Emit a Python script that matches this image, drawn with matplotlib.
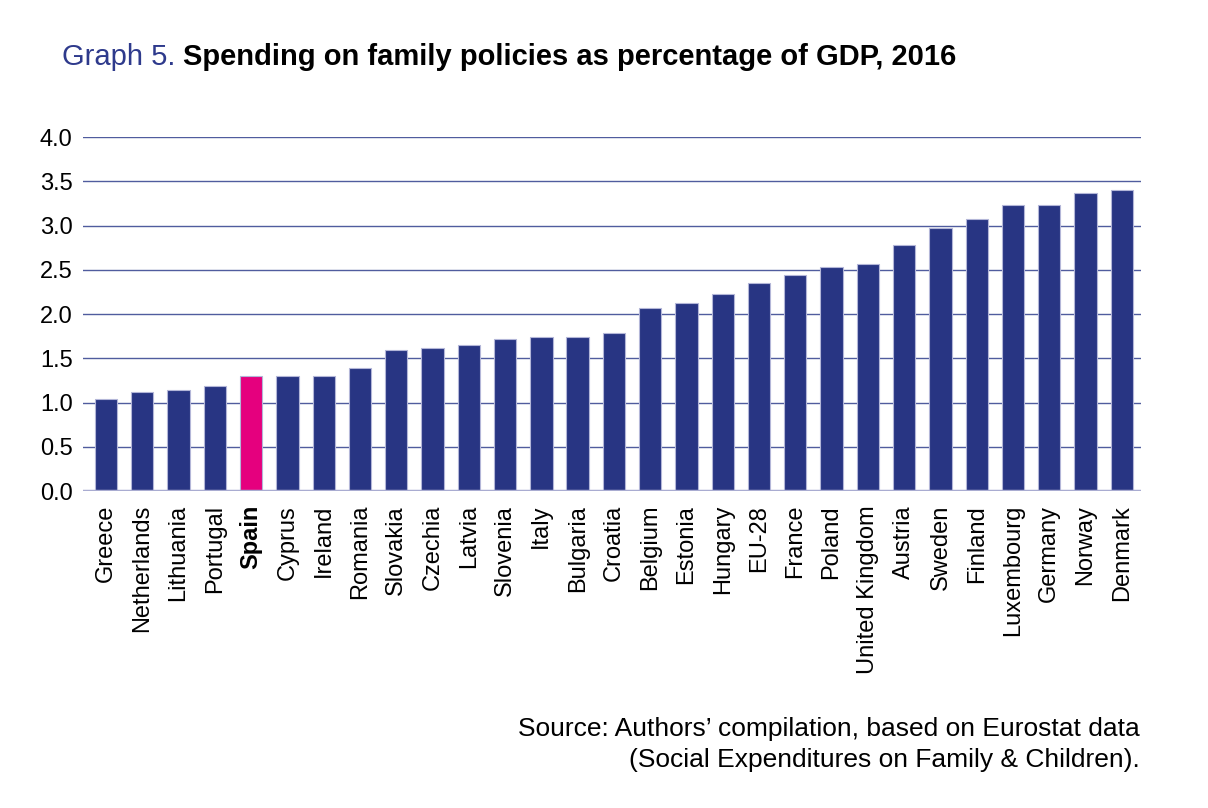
import matplotlib
matplotlib.use('Agg')
import matplotlib.pyplot as plt

countries = ['Greece', 'Netherlands', 'Lithuania', 'Portugal', 'Spain', 'Cyprus', 'Ireland',
             'Romania', 'Slovakia', 'Czechia', 'Latvia', 'Slovenia', 'Italy', 'Bulgaria',
             'Croatia', 'Belgium', 'Estonia', 'Hungary', 'EU-28', 'France', 'Poland',
             'United Kingdom', 'Austria', 'Sweden', 'Finland', 'Luxembourg', 'Germany',
             'Norway', 'Denmark']
spending = [1.04, 1.12, 1.14, 1.19, 1.30, 1.30, 1.30,
            1.39, 1.59, 1.62, 1.65, 1.72, 1.74, 1.74,
            1.78, 2.07, 2.12, 2.23, 2.35, 2.44, 2.53,
            2.56, 2.78, 2.97, 3.07, 3.23, 3.23,
            3.37, 3.40]
highlight = 'Spain'
yticks = [0.0, 0.5, 1.0, 1.5, 2.0, 2.5, 3.0, 3.5, 4.0]

navy = '#283583'
magenta = '#e5007e'
grid_col = '#505c9e'

plt.rcParams['font.family'] = ['Liberation Sans', 'DejaVu Sans']

fig = plt.figure(figsize=(12.08, 8.08), dpi=100)
ax = fig.add_axes([0.0687, 0.3923, 0.8759, 0.4381])

colors = [magenta if c == highlight else navy for c in countries]
x = range(len(countries))
ax.bar(x, spending, width=0.615, color=colors, edgecolor='#b3b6d8', linewidth=0.8, zorder=3)

ax.set_ylim(0, 4.0)
ax.set_xlim(-0.634, 28.53)
ax.set_yticks(yticks)
ax.set_yticklabels(['%.1f' % t for t in yticks], fontsize=17)
for t in yticks[1:]:
    ax.axhline(t, color=grid_col, linewidth=1.0, zorder=1)
ax.axhline(0, color='#a9acd1', linewidth=2.5, zorder=4)

ax.set_xticks(list(x))
ax.set_xticklabels(countries, rotation=90, fontsize=17, va='top', ha='center')
for lbl in ax.get_xticklabels():
    if lbl.get_text() == highlight:
        lbl.set_fontweight('bold')

for s in ax.spines.values():
    s.set_visible(False)
ax.tick_params(axis='both', length=0)
ax.tick_params(axis='y', pad=7.5)
ax.tick_params(axis='x', pad=10)

# title in two parts
t1 = fig.text(62 / 1208, 1 - 57 / 808, 'Graph 5.', fontsize=21, color='#2e3a8c',
              va='center', ha='left')
fig.canvas.draw()
bb = t1.get_window_extent()
fig.text((bb.x1 + 8) / 1208, 1 - 57 / 808, 'Spending on family policies as percentage of GDP, 2016',
         fontsize=21, fontweight='bold', color='black', va='center', ha='left')

fig.text(1140 / 1208, 1 - 729 / 808, 'Source: Authors\u2019 compilation, based on Eurostat data',
         fontsize=19, ha='right', va='center')
fig.text(1140 / 1208, 1 - 760 / 808, '(Social Expenditures on Family & Children).',
         fontsize=19, ha='right', va='center')

fig.savefig('out.png', dpi=100)
